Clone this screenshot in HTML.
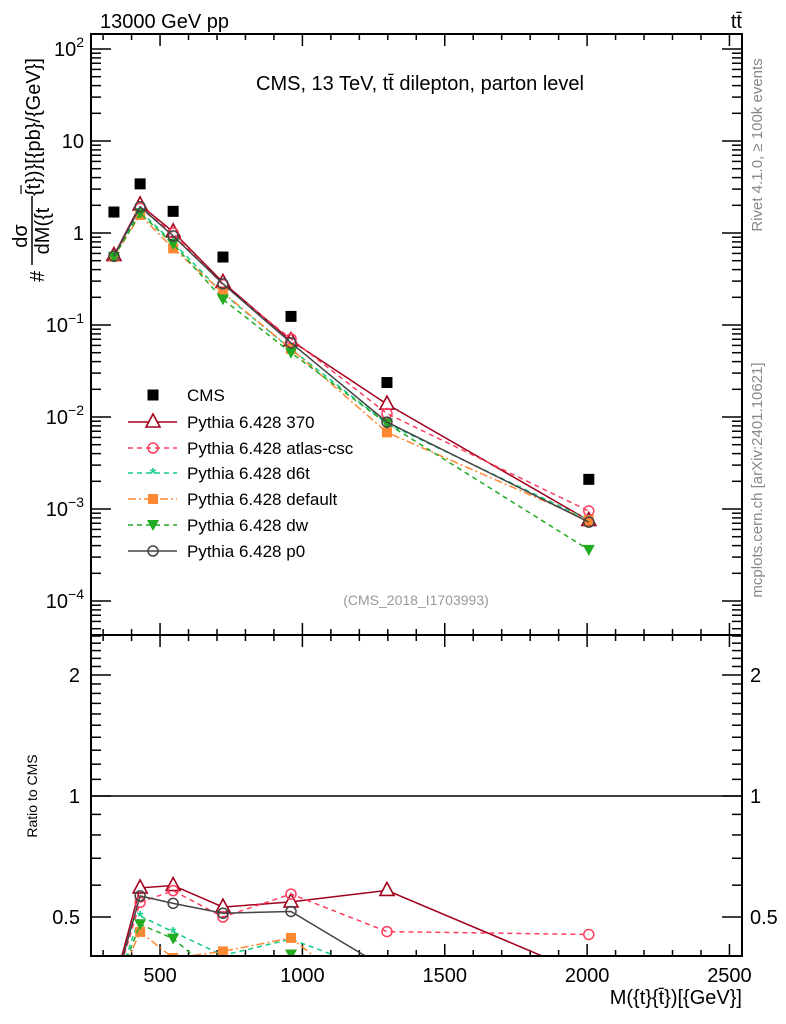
<!DOCTYPE html>
<html><head><meta charset="utf-8"><style>
html,body{margin:0;padding:0;background:#fff;overflow:hidden;width:786px;height:1024px}
svg{display:block;font-family:"Liberation Sans",sans-serif}
</style></head><body>
<svg id="chart" width="786" height="1024" viewBox="0 0 786 1024">
<defs>
<clipPath id="cm"><rect x="91" y="34" width="651" height="601"/></clipPath>
<clipPath id="cr"><rect x="91" y="635" width="651" height="321"/></clipPath>
</defs>
<g id="grid"></g>
<g id="marks"></g>
<rect x="91" y="34" width="651" height="601" fill="none" stroke="#000" stroke-width="2"/>
<rect x="91" y="635" width="651" height="321" fill="none" stroke="#000" stroke-width="2"/>
<text x="100" y="28" font-size="20">13000 GeV pp</text>
<text x="742" y="28" font-size="20" text-anchor="end">tt̄</text>
<text x="420" y="90" font-size="20" text-anchor="middle">CMS, 13 TeV, tt̄ dilepton, parton level</text>
<text x="416" y="605" font-size="14" fill="#999" text-anchor="middle">(CMS_2018_I1703993)</text>
<text transform="translate(762,145) rotate(-90)" font-size="15" fill="#888" text-anchor="middle">Rivet 4.1.0, ≥ 100k events</text>
<text transform="translate(762,480) rotate(-90)" font-size="15" fill="#888" text-anchor="middle">mcplots.cern.ch [arXiv:2401.10621]</text>
<g transform="translate(0,282) rotate(-90)">
<text x="0" y="44" font-size="20">#</text>
<text x="46" y="27" font-size="20" text-anchor="middle">dσ</text>
<line x1="17" y1="32" x2="86" y2="32" stroke="#000" stroke-width="1.5"/>
<text x="51" y="49" font-size="20" text-anchor="middle">dM({t</text>
<line x1="88" y1="21" x2="97" y2="21" stroke="#000" stroke-width="1.2"/>
<text x="86" y="40" font-size="20">{t})}[{pb}/{GeV}]</text>
</g>
<text transform="translate(37,796) rotate(-90)" font-size="14" text-anchor="middle">Ratio to CMS</text>
<text x="742" y="1004" font-size="20" text-anchor="end">M({t}{t̄})[{GeV}]</text>
<g id="legend"></g>
</svg>
<script>
const massBins = [338, 430, 546, 721, 960, 1297, 2006];
const cmsValues = [1.69, 3.42, 1.72, 0.548, 0.124, 0.0237, 0.0021];
const v370 = [0.57, 2.02, 1.03, 0.29, 0.0676, 0.0138, 0.00075];
const vAtlas = [0.56, 1.86, 1.0, 0.274, 0.0707, 0.0109, 0.00095];
const vD6t = [0.55, 1.72, 0.79, 0.22, 0.0546, 0.0085, 0.00076];
const vDefault = [0.55, 1.57, 0.68, 0.225, 0.055, 0.0068, 0.00075];
const vDw = [0.55, 1.64, 0.76, 0.19, 0.050, 0.0085, 0.00036];
const vP0 = [0.56, 1.93, 0.93, 0.28, 0.064, 0.0088, 0.00072];
const xTicks = [500, 1000, 1500, 2000, 2500];
const yDecades = [-4, -3, -2, -1, 0, 1, 2];
const ratioTicks = [0.5, 1, 2];

const NS = "http://www.w3.org/2000/svg";
const X = v => 17.7 + v * 0.2847;
const Y = v => 233 - 92 * Math.log10(v);
const R = r => 796 - 121 * Math.log2(r);
function mk(tag, attrs, parent) {
  const e = document.createElementNS(NS, tag);
  for (const k in attrs) e.setAttribute(k, attrs[k]);
  parent.appendChild(e); return e;
}
const grid = document.getElementById('grid');
for (let v = 300; v <= 2500; v += 100) {
  const x = X(v), maj = v % 500 === 0, L = maj ? 12 : 6;
  [[34, 1], [635, -1], [635, 1], [956, -1]].forEach(([y0, d]) => {
    const t = mk('line', {x1: x, x2: x, y1: y0, y2: y0 + d * L, stroke: '#000', 'stroke-width': 1.5}, grid);
    
    
  });
}
xTicks.forEach(v => {
  const t = mk('text', {x: X(v), y: 982, 'font-size': 20, 'text-anchor': 'middle'}, grid);
  t.textContent = v;
  
  
});
for (let d = -5; d <= 2; d++) {
  for (let m = 1; m <= 9; m++) {
    const y = Y(m * Math.pow(10, d));
    if (y < 34 || y > 635) continue;
    const L = m === 1 ? 20 : 10;
    mk('line', {x1: 91, x2: 91 + L, y1: y, y2: y, stroke: '#000', 'stroke-width': 1.5}, grid);
    const t = mk('line', {x1: 742, x2: 742 - L, y1: y, y2: y, stroke: '#000', 'stroke-width': 1.5}, grid);
    
    
  }
}
yDecades.forEach(d => {
  const y = Y(Math.pow(10, d));
  const t = mk('text', {x: 84, y: y + 7, 'font-size': 20, 'text-anchor': 'end'}, grid);
  
  
  if (d === 0) t.textContent = '1';
  else if (d === 1) t.textContent = '10';
  else { t.textContent = '10'; const s = mk('tspan', {dy: -9, 'font-size': 14}, t); s.textContent = String(d).replace('-', '\u2212'); }
});
for (let r = 0.4; r <= 2.55; r += 0.1) {
  const y = R(r); if (y < 635 || y > 956) continue;
  const maj = Math.abs(r - 0.5) < 1e-6 || Math.abs(r - 1) < 1e-6 || Math.abs(r - 2) < 1e-6;
  const L = maj ? 20 : 10;
  mk('line', {x1: 91, x2: 91 + L, y1: y, y2: y, stroke: '#000', 'stroke-width': 1.5}, grid);
  const t = mk('line', {x1: 742, x2: 742 - L, y1: y, y2: y, stroke: '#000', 'stroke-width': 1.5}, grid);
  
  
}
ratioTicks.forEach(r => {
  const a = mk('text', {x: 80, y: R(r) + 7, 'font-size': 20, 'text-anchor': 'end'}, grid);
  a.textContent = r;
  
  
  const b = mk('text', {x: 750, y: R(r) + 7, 'font-size': 20}, grid);
  b.textContent = r;
  
  
});
const one = mk('line', {x1: 91, x2: 742, y1: R(1), y2: R(1), stroke: '#000', 'stroke-width': 1.5}, grid);



const marks = document.getElementById('marks');
const gm = mk('g', {'clip-path': 'url(#cm)'}, marks);
const gr = mk('g', {'clip-path': 'url(#cr)'}, marks);
const series = [
  {name: '370', vals: v370, color: '#a0001c', dash: '', marker: 'tri', label: 'Pythia 6.428 370'},
  {name: 'atlas-csc', vals: vAtlas, color: '#ff3d5f', dash: '5,4', marker: 'circ', label: 'Pythia 6.428 atlas-csc'},
  {name: 'd6t', vals: vD6t, color: '#10cc88', dash: '5,4', marker: 'star', label: 'Pythia 6.428 d6t'},
  {name: 'default', vals: vDefault, color: '#ff8833', dash: '8,3,2,3', marker: 'sq', label: 'Pythia 6.428 default'},
  {name: 'dw', vals: vDw, color: '#22aa22', dash: '5,4', marker: 'dtri', label: 'Pythia 6.428 dw'},
  {name: 'p0', vals: vP0, color: '#444', dash: '', marker: 'circ', label: 'Pythia 6.428 p0'}
];
function marker(type, x, y, c, g) {
  if (type === 'tri') return mk('polygon', {points: `${x},${y-8} ${x-7},${y+5} ${x+7},${y+5}`, fill: '#fff', stroke: c, 'stroke-width': 1.6}, g);
  if (type === 'circ') return mk('circle', {cx: x, cy: y, r: 5, fill: 'none', stroke: c, 'stroke-width': 1.5}, g);
  if (type === 'star') return mk('text', {x: x, y: y + 6, 'font-size': 16, 'text-anchor': 'middle', fill: c, 'font-weight': 'bold'}, g);
  if (type === 'sq') return mk('rect', {x: x - 5, y: y - 5, width: 10, height: 10, fill: c}, g);
  if (type === 'dtri') return mk('polygon', {points: `${x-6},${y-5} ${x+6},${y-5} ${x},${y+6}`, fill: c}, g);
}
series.forEach(s => {
  const pts = s.vals.map((v, i) => `${X(massBins[i])},${Y(v)}`).join(' ');
  const l = mk('polyline', {points: pts, fill: 'none', stroke: s.color, 'stroke-width': 1.5, 'stroke-dasharray': s.dash}, gm);
  
  
  const rp = s.vals.map((v, i) => `${X(massBins[i])},${R(v / cmsValues[i])}`).join(' ');
  const rl = mk('polyline', {points: rp, fill: 'none', stroke: s.color, 'stroke-width': 1.5, 'stroke-dasharray': s.dash}, gr);
  
  
  s.vals.forEach((v, i) => {
    const m = marker(s.marker, X(massBins[i]), Y(v), s.color, gm);
    if (s.marker === 'star') m.textContent = '*';
    
    
    const m2 = marker(s.marker, X(massBins[i]), R(v / cmsValues[i]), s.color, gr);
    if (s.marker === 'star') m2.textContent = '*';
    
    
  });
});
cmsValues.forEach((v, i) => {
  const r = mk('rect', {x: X(massBins[i]) - 5.5, y: Y(v) - 5.5, width: 11, height: 11, fill: '#000'}, gm);
  
  
});
const lg = document.getElementById('legend');
const rows = [395, 422, 448, 473, 499, 525, 551];
const cm = mk('rect', {x: 147.5, y: rows[0] - 5.5, width: 11, height: 11, fill: '#000'}, lg);


const ct = mk('text', {x: 187, y: rows[0] + 6, 'font-size': 17}, lg);
ct.textContent = 'CMS';


series.forEach((s, k) => {
  const y = rows[k + 1];
  mk('line', {x1: 128, x2: 177, y1: y, y2: y, stroke: s.color, 'stroke-width': 1.5, 'stroke-dasharray': s.dash}, lg);
  const m = marker(s.marker, 153, y, s.color, lg);
  if (s.marker === 'star') m.textContent = '*';
  
  
  const t = mk('text', {x: 187, y: y + 6, 'font-size': 17}, lg);
  t.textContent = s.label;
  
  
});
</script>
</body></html>
